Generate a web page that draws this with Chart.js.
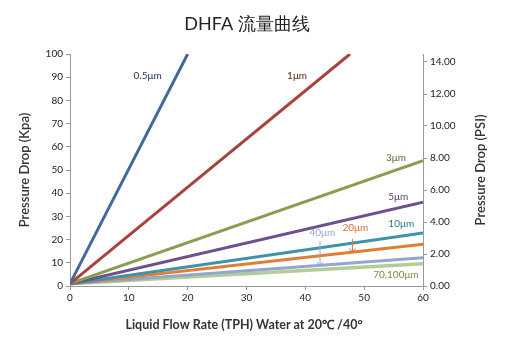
<!DOCTYPE html>
<html>
<head>
<meta charset="utf-8">
<script src="https://cdn.jsdelivr.net/npm/chart.js@4"></script>
<style>
  html, body { margin: 0; padding: 0; background: #fff; }
  #wrap { width: 509px; height: 342px; }
</style>
</head>
<body>
<div id="wrap"><canvas id="chart" width="509" height="342"></canvas></div>
<script>
// filter grades and their straight lines (start at 0 TPH, end point)
var grades = ['0.5μm', '1μm', '3μm', '5μm', '10μm', '20μm', '40μm', '70,100μm'];
var flowStart = [0, 0, 0, 0, 0, 0, 0, 0];
var kpaStart = [1, 1, 1, 1, 1, 1, 1, 1];
var flowEnd = [20, 47.6, 60, 60, 60, 60, 60, 60];
var kpaEnd = [100, 100, 54.0, 36.1, 22.8, 18.0, 12.2, 9.6];
var colors = ['#41699c', '#a8423d', '#88a04e', '#6e5090', '#3f93a8', '#df7f36', '#92a7cf', '#b5cc95'];

// label positions (data coords) and colours
var labelX = [13.2, 38.6, 55.4, 55.8, 56.3, 48.5, 42.9, 55.4];
var labelY = [90.5, 90.5, 55.2, 38.4, 26.7, 25.0, 22.8, 4.7];
var labelColors = ['#1f2f4f', '#5a2420', '#5c6a2a', '#5a3a7a', '#2f7a8f', '#d9722a', '#93a9cf', '#7a9040'];

var xTicks = [0, 10, 20, 30, 40, 50, 60];
var kpaTicks = [0, 10, 20, 30, 40, 50, 60, 70, 80, 90, 100];
var psiTicks = [0, 2, 4, 6, 8, 10, 12, 14];

var datasets = grades.map(function(g, i) {
  return {
    label: g,
    data: [{x: flowStart[i], y: kpaStart[i]}, {x: flowEnd[i], y: kpaEnd[i]}],
    borderColor: colors[i],
    borderWidth: i == 7 ? 3.5 : 3,
    pointRadius: 0,
    fill: false,
    tension: 0
  };
});

var font = 'Lato, "Open Sans", sans-serif';

var extras = {
  id: 'extras',
  afterDatasetsDraw: function(chart) {
    var ctx = chart.ctx;
    var xs = chart.scales.x, ys = chart.scales.y;
    ctx.save();
    ctx.font = '10px ' + font;
    ctx.textAlign = 'center';
    ctx.textBaseline = 'middle';
    grades.forEach(function(g, i) {
      ctx.fillStyle = labelColors[i];
      ctx.fillText(g, xs.getPixelForValue(labelX[i]), ys.getPixelForValue(labelY[i]));
    });
    // arrows for 40 and 20
    function arrow(x, y1, y2, c) {
      var px = xs.getPixelForValue(x), p1 = ys.getPixelForValue(y1), p2 = ys.getPixelForValue(y2);
      ctx.strokeStyle = c;
      ctx.lineWidth = 1;
      ctx.beginPath();
      ctx.moveTo(px, p1); ctx.lineTo(px, p2);
      ctx.moveTo(px - 3, p2 - 4); ctx.lineTo(px, p2); ctx.lineTo(px + 3, p2 - 4);
      ctx.stroke();
    }
    arrow(42.5, 19.4, 8.6, labelColors[6]);
    arrow(48.0, 20.3, 14.4, labelColors[5]);

    // titles
    ctx.fillStyle = '#222';
    ctx.font = '18px ' + font;
    ctx.fillText('DHFA 流量曲线', 247, 24);
    ctx.font = 'bold 12.5px ' + font;
    ctx.fillStyle = '#333';
    ctx.fillText('Liquid Flow Rate (TPH) Water at 20℃ /40°', 244, 325);
    ctx.font = '600 13px ' + font;
    ctx.translate(25, 170);
    ctx.rotate(-Math.PI / 2);
    ctx.fillText('Pressure Drop (Kpa)', 0, 0);
    ctx.restore();
    ctx.save();
    ctx.font = '600 13px ' + font;
    ctx.fillStyle = '#333';
    ctx.textAlign = 'center';
    ctx.textBaseline = 'middle';
    ctx.translate(481, 170);
    ctx.rotate(-Math.PI / 2);
    ctx.fillText('Pressure Drop (PSI)', 0, 0);
    ctx.restore();
  }
};

var axisGrid = { drawOnChartArea: false, drawTicks: true, tickLength: 4, color: '#999' };
var axisBorder = { color: '#999', width: 1 };

var ctx = document.getElementById('chart').getContext('2d');
var chart = new Chart(ctx, {
  type: 'line',
  data: { datasets: datasets },
  options: {
    responsive: false,
    animation: false,
    layout: { padding: { top: 54, left: 0, right: 0, bottom: 0 } },
    plugins: { legend: { display: false }, tooltip: { enabled: false } },
    scales: {
      x: {
        type: 'linear', min: 0, max: 60,
        afterBuildTicks: function(a) { a.ticks = xTicks.map(function(v) { return {value: v}; }); },
        afterFit: function(a) { a.height = 56; },
        grid: axisGrid, border: axisBorder,
        ticks: { color: '#222', font: { size: 10, family: font }, padding: 2, maxRotation: 0 }
      },
      y: {
        type: 'linear', position: 'left', min: 0, max: 100,
        afterBuildTicks: function(a) { a.ticks = kpaTicks.map(function(v) { return {value: v}; }); },
        afterFit: function(a) { a.width = 70; },
        grid: axisGrid, border: axisBorder,
        ticks: { color: '#222', font: { size: 10, family: font }, padding: 3 }
      },
      y2: {
        type: 'linear', position: 'right', min: 0, max: 14.5,
        afterBuildTicks: function(a) { a.ticks = psiTicks.map(function(v) { return {value: v}; }); },
        afterFit: function(a) { a.width = 86; },
        grid: axisGrid, border: axisBorder,
        ticks: { color: '#222', font: { size: 10, family: font }, padding: 3,
          callback: function(v) { return Number(v).toFixed(2); } }
      }
    }
  },
  plugins: [extras]
});
</script>
</body>
</html>
